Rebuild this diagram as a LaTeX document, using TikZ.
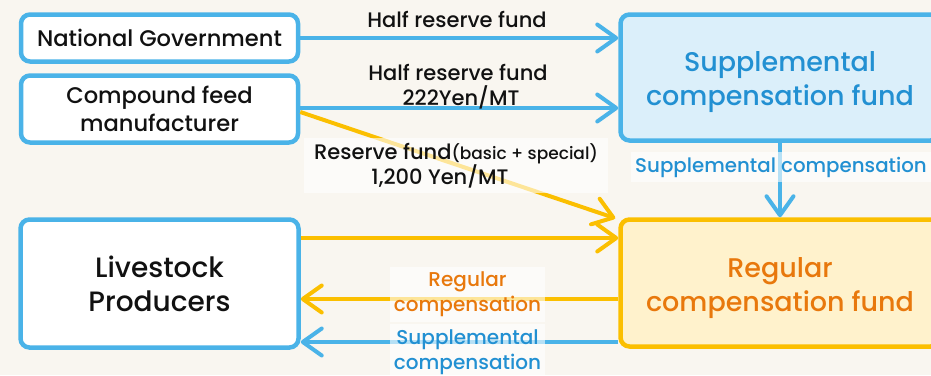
\documentclass[tikz,border=0pt]{standalone}
\usepackage{fontspec}
\setmainfont{Poppins}[UprightFont=* Medium, BoldFont=* SemiBold]
\usetikzlibrary{arrows.meta}
\definecolor{bgc}{HTML}{F9F6F0}
\definecolor{blueline}{HTML}{4AB3E8}
\definecolor{bluetext}{HTML}{2290D2}
\definecolor{bluefill}{HTML}{DBEFFA}
\definecolor{yel}{HTML}{FBBF00}
\definecolor{yelfill}{HTML}{FFF2CC}
\definecolor{orangetext}{HTML}{E8780C}
\definecolor{ink}{HTML}{111111}
\begin{document}
\begin{tikzpicture}[x=1pt,y=-1pt,
  box/.style={draw=blueline, fill=white, line width=4.5pt, rounded corners=9pt, inner sep=0pt, align=center, text=ink},
  fund/.style={line width=4.5pt, rounded corners=9pt, inner sep=0pt},
  fundtitle/.style={inner sep=0pt, align=center, font=\fontsize{27}{34}\selectfont},
  arr/.style={line width=4pt, -{Straight Barb[length=19pt,width=27pt,round]}},
  lbl/.style={inner sep=0pt, align=center, text=ink, font=\fontsize{21}{25}\selectfont},
  veil/.style={fill=white, fill opacity=0.6, text opacity=1, inner sep=0pt, align=center}
]
\clip (0,0) rectangle (931,375);
\fill[bgc] (0,0) rectangle (931,375);
\useasboundingbox (0,0) rectangle (931,375);

% nodes
\node[box, minimum width=277pt, minimum height=47pt, font=\fontsize{22.6}{28}\selectfont] (ng) at (159.5,38) {National Government};
\node[box, minimum width=277pt, minimum height=67pt, font=\fontsize{22.6}{28}\selectfont] (cfm) at (159.5,109) {Compound feed\\manufacturer};
\node[box, minimum width=278pt, minimum height=128pt, font=\fontsize{28}{34}\selectfont] (ls) at (159.5,283.5) {Livestock\\Producers};
\node[fund, draw=blueline, fill=bluefill, minimum width=319pt, minimum height=126pt] (supp) at (780,77.5) {};
\node[fundtitle, text=bluetext] (supptitle) at ([yshift=-5pt]supp.center) {Supplemental\\compensation fund};
\node[fund, draw=yel, fill=yelfill, minimum width=319pt, minimum height=127pt] (reg) at (780,283) {};
\node[fundtitle, text=orangetext] (regtitle) at ([yshift=-5pt]reg.center) {Regular\\compensation fund};

% connectors
\draw[arr, blueline] (ng.east |- 0,38) -- (supp.west |- 0,38);
\draw[arr, blueline] (cfm.east |- 0,108) -- (supp.west |- 0,108);
\draw[arr, yel] (cfm.east |- 0,112) -- ([xshift=-3pt,yshift=-1pt]reg.north west);
\draw[arr, yel] (ls.east |- 0,238) -- (reg.west |- 0,238);
\draw[arr, yel] (reg.west |- 0,299) -- (ls.east |- 0,299);
\draw[arr, blueline] (reg.west |- 0,342) -- (ls.east |- 0,342);
\draw[arr, blueline] (supp.south) -- (reg.north);

% labels
\node[lbl] (l1) at (457,19) {Half reserve fund};
\node[lbl] (l2) at (458,87) {Half reserve fund\\\hspace*{6pt}222Yen/MT};
\node[veil, minimum width=304pt, minimum height=55pt, text=ink, font=\fontsize{21}{24}\selectfont] (l3) at (456,165.5) {Reserve fund{\fontsize{17}{24}\selectfont(basic + special)}\\\hspace*{-32pt}1,200 Yen/MT};
\node[veil, minimum width=155pt, minimum height=55pt, text=orangetext, font=\fontsize{20}{25}\selectfont] (l4) at (467.5,294.5) {Regular\\compensation};
\node[veil, minimum width=155pt, minimum height=56pt, text=bluetext, font=\fontsize{20}{25}\selectfont] (l5) at (467.5,352) {Supplemental\\compensation};
\node[veil, minimum width=300pt, minimum height=30pt, text=bluetext, font=\fontsize{19.8}{25}\selectfont] (l6) at (781,167) {Supplemental compensation};
\end{tikzpicture}
\end{document}
